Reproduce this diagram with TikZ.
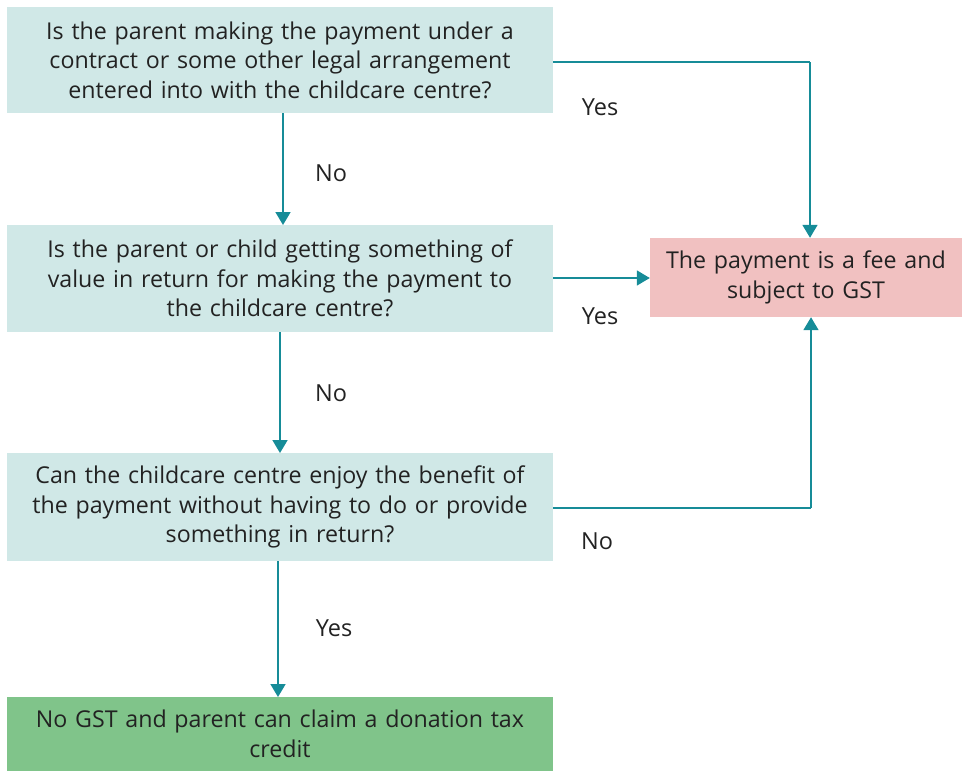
\documentclass[tikz,border=0pt]{standalone}
\usepackage{fontspec}
\setmainfont{Open Sans}
\usetikzlibrary{arrows.meta}
\definecolor{qbox}{HTML}{D0E8E7}
\definecolor{feebox}{HTML}{F1C1C1}
\definecolor{okbox}{HTML}{80C48A}
\definecolor{conn}{HTML}{168C98}
\definecolor{txt}{HTML}{222222}
\begin{document}
\begin{tikzpicture}[x=1pt,y=1pt,
  qnode/.style={fill=qbox, minimum width=546pt, text width=540pt, align=center, inner sep=0pt, text=txt, font=\fontsize{23.2}{29.5}\selectfont},
  fnode/.style={fill=feebox, minimum width=312pt, text width=306pt, align=center, inner sep=0pt, text=txt, font=\fontsize{23.2}{29.5}\selectfont},
  gnode/.style={fill=okbox, minimum width=546pt, text width=540pt, align=center, inner sep=0pt, text=txt, font=\fontsize{23.2}{29.5}\selectfont},
  lbl/.style={text=txt, font=\fontsize{23.5}{26}\selectfont, inner sep=0pt},
  conline/.style={draw=conn, line width=1.8pt},
  arr/.style={conline, -{Triangle[width=15pt,length=13pt]}}
]
\useasboundingbox (0,0) rectangle (962,-771);
\node[qnode, minimum height=106pt] (q1) at (280,-60) {Is the parent making the payment under a\\contract or some other legal arrangement\\entered into with the childcare centre?};
\node[qnode, minimum height=107pt] (q2) at (280,-278.5) {Is the parent or child getting something of\\value in return for making the payment to\\the childcare centre?};
\node[qnode, minimum height=108pt] (q3) at (280,-507) {Can the childcare centre enjoy the benefit of\\the payment without having to do or provide\\something in return?};
\node[gnode, minimum height=74pt] (g) at (280,-734) {No GST and parent can claim a donation tax\\credit};
\node[fnode, minimum height=79pt] (f) at (806,-277.5) {The payment is a fee and\\subject to GST};
\coordinate (c1) at (810,-62);
\coordinate (c3) at (811,-508);
\draw[arr] (283,-113) -- (283,-225);
\draw[arr] (280,-332) -- (280,-453);
\draw[arr] (278,-561) -- (278,-697);
\draw[conline] (q1.east |- 0,-62) -- (c1);
\draw[arr] (c1) -- (c1 |- f.north);
\draw[arr] (q2.east |- 0,-278) -- (f.west |- 0,-278);
\draw[conline] (q3.east |- 0,-508) -- (c3);
\draw[arr] (c3) -- (c3 |- f.south);
\node[lbl] (y1) at (600,-107) {Yes};
\node[lbl] (n1) at (331,-173) {No};
\node[lbl] (y2) at (600,-316) {Yes};
\node[lbl] (n2) at (331,-393) {No};
\node[lbl] (n3) at (597,-541) {No};
\node[lbl] (y3) at (334,-628) {Yes};
\end{tikzpicture}
\end{document}
